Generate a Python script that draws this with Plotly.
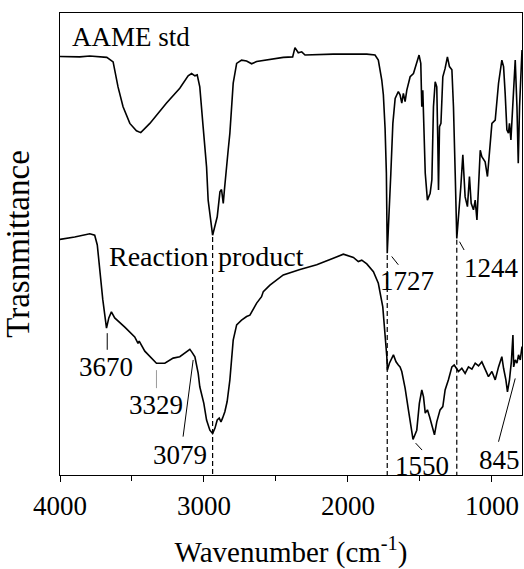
import plotly.graph_objects as go

# ---- data (wavenumber in cm-1, transmittance in arbitrary units) ----
aame_wn = [4000, 3863, 3793, 3724, 3675, 3631, 3597, 3562, 3515, 3469, 3439, 3376, 3260, 3168,
           3110, 3086, 3063, 3047, 3029, 3006, 2982, 2971, 2950, 2940, 2908, 2889, 2878, 2866,
           2858, 2843, 2832, 2820, 2797, 2773, 2739, 2704, 2669, 2634, 2565, 2449, 2384, 2368,
           2345, 2321, 2298, 2102, 1869, 1812, 1789, 1765, 1754, 1742, 1733, 1727, 1702, 1688,
           1672, 1650, 1638, 1626, 1615, 1603, 1591, 1568, 1545, 1522, 1506, 1494, 1487, 1480,
           1475, 1463, 1448, 1429, 1417, 1406, 1394, 1383, 1376, 1371, 1364, 1354, 1341, 1325,
           1309, 1295, 1278, 1267, 1255, 1244, 1216, 1202, 1186, 1170, 1156, 1144, 1128, 1116,
           1104, 1093, 1081, 1070, 1047, 1031, 1017, 1000, 977, 954, 931, 919, 908, 896, 885,
           878, 868, 854, 838, 826, 817, 808, 798, 791]
aame_t = [90.6, 90.5, 90.7, 90.5, 90.4, 89.4, 84.0, 79.7, 76.1, 74.5, 74.1, 76.1, 80.5, 83.7,
          86.4, 86.9, 86.4, 86.6, 84.0, 75.4, 66.7, 59.5, 53.7, 51.9, 55.9, 61.3, 61.8, 58.8,
          61.7, 67.5, 70.3, 74.0, 84.8, 89.1, 89.8, 89.6, 89.0, 89.5, 89.8, 90.4, 90.5, 92.5,
          91.4, 91.6, 90.9, 91.1, 91.1, 90.9, 89.8, 85.5, 82.3, 75.0, 65.3, 48.0, 65.3, 76.1,
          81.5, 83.0, 82.3, 80.5, 82.6, 80.8, 83.3, 86.2, 86.9, 89.1, 90.9, 89.1, 79.7, 83.3,
          77.6, 65.3, 59.5, 61.0, 63.9, 79.7, 85.1, 84.0, 72.5, 61.7, 75.4, 76.1, 86.2, 88.0,
          90.5, 88.4, 87.7, 79.7, 65.3, 51.2, 62.4, 69.3, 60.2, 58.1, 64.6, 58.8, 57.4, 59.5,
          55.2, 63.1, 70.3, 68.9, 67.8, 64.6, 70.3, 76.1, 76.8, 84.8, 89.8, 88.4, 82.6, 74.7,
          74.0, 76.1, 72.5, 80.5, 89.8, 79.7, 67.5, 79.7, 89.8, 92.0]

prod_wn = [4000, 3898, 3793, 3759, 3741, 3724, 3703, 3677, 3661, 3643, 3620, 3550, 3481, 3458,
           3450, 3411, 3330, 3272, 3214, 3168, 3121, 3098, 3084, 3063, 3040, 3029, 3001, 2982,
           2959, 2940, 2924, 2908, 2894, 2882, 2871, 2855, 2839, 2820, 2797, 2773, 2739, 2704,
           2681, 2634, 2600, 2588, 2542, 2449, 2333, 2217, 2102, 2032, 1962, 1928, 1904, 1869,
           1823, 1789, 1758, 1742, 1730, 1726, 1712, 1684, 1666, 1650, 1638, 1626, 1603, 1580,
           1556, 1548, 1522, 1504, 1487, 1475, 1463, 1448, 1433, 1417, 1399, 1383, 1360, 1341,
           1325, 1302, 1278, 1262, 1243, 1232, 1209, 1186, 1163, 1139, 1116, 1093, 1070, 1047,
           1024, 1000, 977, 954, 931, 919, 903, 892, 878, 865, 854, 849, 838, 826, 815, 803, 791]
prod_t = [51.0, 51.5, 52.2, 51.9, 49.8, 44.4, 38.0, 31.8, 34.0, 35.3, 34.0, 32.0, 29.9, 28.5,
          29.0, 26.8, 24.2, 24.2, 25.3, 25.6, 26.7, 27.2, 26.6, 25.6, 22.0, 19.1, 15.5, 11.9,
          9.7, 9.0, 10.1, 11.9, 12.3, 11.5, 12.3, 13.7, 15.9, 20.6, 29.2, 32.5, 33.5, 34.3,
          34.6, 37.2, 38.6, 39.7, 41.1, 43.3, 44.5, 45.5, 46.9, 47.8, 47.1, 46.2, 46.5, 45.7,
          44.0, 41.5, 36.4, 30.7, 25.6, 22.7, 24.2, 26.0, 24.5, 23.8, 23.4, 22.4, 18.8, 14.1,
          9.0, 7.7, 9.7, 15.5, 18.4, 16.9, 13.4, 14.1, 12.6, 10.5, 8.7, 11.5, 14.1, 14.8,
          18.4, 20.6, 23.4, 23.8, 22.7, 22.4, 23.1, 22.0, 23.4, 22.9, 24.2, 23.6, 24.5, 22.7,
          21.3, 22.4, 20.6, 23.4, 25.6, 23.1, 20.6, 18.0, 20.6, 24.5, 30.3, 23.4, 24.9, 24.2,
          26.0, 24.9, 27.8]

# reference (dashed) lines: wavenumber, upper end
ref_wn = [2940, 1727, 1244]
ref_top = [51.5, 47.6, 50.9]

# peak labels: text, label position, leader line (start, end)
peak_text = ["3670", "3329", "3079", "1550", "845", "1727", "1244"]
peak_lab_wn = [3678, 3335, 3167, 1487, 948, 1593, 1000]
peak_lab_t = [23.4, 15.2, 4.3, 1.9, 3.2, 42.0, 44.9]
lead_wn0 = [3672, 3330, 3145, 1530, 954, 1696, 1225]
lead_t0 = [30.7, 22.7, 8.3, 6.9, 7.2, 47.3, 50.5]
lead_wn1 = [3672, 3330, 3075, 1485, 838, 1650, 1193]
lead_t1 = [27.1, 18.8, 24.9, 5.4, 20.9, 45.5, 48.7]
lead_color = ["black", "#9a9a9a", "black", "black", "black", "black", "black"]

x_ticks = [4000, 3000, 2000, 1000]
x_range = [4000, 791]

FONT = "Liberation Serif"

fig = go.Figure()
fig.add_trace(go.Scatter(x=aame_wn, y=aame_t, mode="lines",
                         line=dict(color="black", width=1.6), showlegend=False))
fig.add_trace(go.Scatter(x=prod_wn, y=prod_t, mode="lines",
                         line=dict(color="black", width=1.6), showlegend=False))
for w, top in zip(ref_wn, ref_top):
    fig.add_trace(go.Scatter(x=[w, w], y=[top, 0], mode="lines",
                             line=dict(color="black", width=1.2, dash="5px,3px"),
                             showlegend=False))
for i in range(len(peak_text)):
    fig.add_trace(go.Scatter(x=[lead_wn0[i], lead_wn1[i]], y=[lead_t0[i], lead_t1[i]],
                             mode="lines", line=dict(color=lead_color[i], width=1),
                             showlegend=False))
    fig.add_annotation(x=peak_lab_wn[i], y=peak_lab_t[i], text=peak_text[i], showarrow=False,
                       xanchor="center", yanchor="middle",
                       font=dict(family=FONT, size=27, color="black"))

fig.add_annotation(x=3930, y=94.9, text="AAME std", showarrow=False, xanchor="left",
                   yanchor="middle", font=dict(family=FONT, size=27, color="black"))
fig.add_annotation(x=2950, y=47.3, text="Reaction", showarrow=False, xanchor="right",
                   yanchor="middle", font=dict(family=FONT, size=28, color="black"))
fig.add_annotation(x=2918, y=47.3, text="product", showarrow=False, xanchor="left",
                   yanchor="middle", font=dict(family=FONT, size=28, color="black"))

fig.update_layout(
    width=524, height=569,
    margin=dict(l=60, r=2, t=13, b=94),
    paper_bgcolor="white", plot_bgcolor="white",
    font=dict(family=FONT, size=27, color="black"),
    showlegend=False,
)
fig.update_xaxes(range=x_range, tickvals=x_ticks, ticks="outside", ticklen=6, tickwidth=1.2,
                 tickcolor="black", showline=True, linecolor="black", linewidth=1.3,
                 mirror=True, showgrid=False, zeroline=False,
                 minor=dict(ticks="outside", ticklen=5, dtick=500, tick0=0, tickcolor="black"),
                 tickfont=dict(family=FONT, size=27),
                 title=dict(text="Wavenumber (cm<sup>-1</sup>)",
                            font=dict(family=FONT, size=29), standoff=22))
fig.update_yaxes(range=[0, 100], showticklabels=False, ticks="", showline=True,
                 linecolor="black", linewidth=1.3, mirror=True, showgrid=False,
                 zeroline=False,
                 title=dict(text="Trasnmittance", font=dict(family=FONT, size=33), standoff=20))

fig.write_html("out.html")
